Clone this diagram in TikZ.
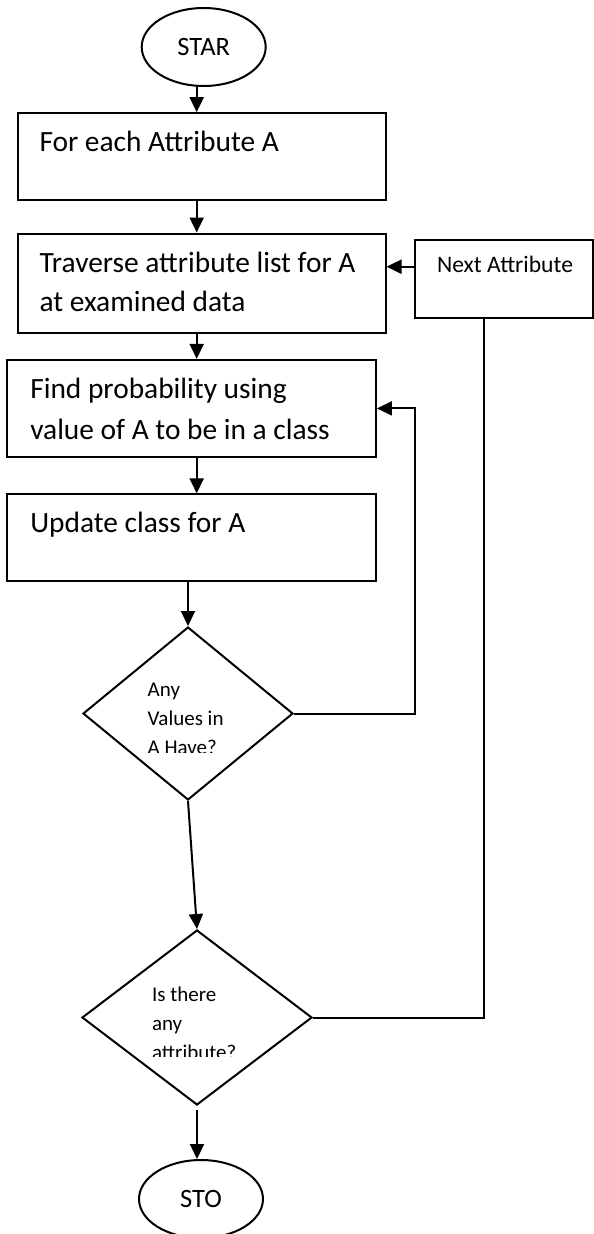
\documentclass[tikz,border=0pt]{standalone}
\usepackage{fontspec}
\setmainfont{Carlito}
\usetikzlibrary{shapes.geometric,arrows.meta}
\begin{document}
\begin{tikzpicture}[x=1pt,y=-1pt,
  line width=2pt,
  box/.style={draw, rectangle, inner sep=0pt, line width=2pt},
  term/.style={draw, ellipse, inner sep=0pt, minimum width=124pt, minimum height=78pt, line width=2pt, font=\fontsize{26.5}{30}\selectfont},
  dec/.style={draw, diamond, inner sep=0pt, line width=2pt},
  txt/.style={inner sep=0pt, anchor=base west, font=\fontsize{29.4}{35}\selectfont},
  dtxt/.style={inner sep=0pt, anchor=base west, font=\fontsize{21}{25}\selectfont},
  ntxt/.style={inner sep=0pt, anchor=base west, font=\fontsize{23.6}{28}\selectfont},
  arr/.style={-{Triangle[length=15pt,width=14pt]}, line width=2pt},
  conn/.style={line width=2pt}
]
\useasboundingbox (0,0) rectangle (594,1234);

% shapes
\node[term] (start) at (203.7,47) {STAR};
\node[box, minimum width=368pt, minimum height=87pt] (b1) at (201.5,156.7) {};
\node[box, minimum width=368pt, minimum height=99pt] (b2) at (201.5,283) {};
\node[box, minimum width=178.2pt, minimum height=78.3pt] (next) at (503.9,279.2) {};
\node[box, minimum width=368.6pt, minimum height=97pt] (b3) at (191.6,408.4) {};
\node[box, minimum width=368.6pt, minimum height=86.7pt] (b4) at (191.6,537.7) {};
\node[dec, minimum width=210pt, minimum height=173pt] (d1) at (188,713.5) {};
\node[dec, minimum width=230pt, minimum height=175pt] (d2) at (197,1017.5) {};
\node[term] (stop) at (201,1199) {STO};

% texts
\node[txt] (t1) at (38.5,151.7) {For each Attribute A};
\node[txt] (t2a) at (38.5,272) {Traverse attribute list for A};
\node[txt] (t2b) at (38.5,311.7) {at examined data};
\node[ntxt] (tn) at (436,272.7) {Next Attribute};
\node[txt] (t3a) at (29.3,398.5) {Find probability using};
\node[txt] (t3b) at (29.3,439) {value of A to be in a class};
\node[txt] (t4) at (29.3,532.7) {Update class for A};

\begin{scope}
  \clip (100,660) rectangle (280,752.5);
  \node[dtxt] (q1a) at (146.7,696) {Any};
  \node[dtxt] (q1b) at (146.7,725) {Values in};
  \node[dtxt] (q1c) at (146.7,754) {A Have?};
\end{scope}
\begin{scope}
  \clip (100,960) rectangle (300,1056);
  \node[dtxt] (q2a) at (151,1001) {Is there};
  \node[dtxt] (q2b) at (151,1030) {any};
  \node[dtxt] (q2c) at (151,1059) {attribute?};
\end{scope}

% helper coordinates
\coordinate (cx) at (196.7,0);
\coordinate (lp) at (415,0);
\coordinate (nx) at (484,0);
\coordinate (ay) at (0,266.7);

% connectors
\draw[arr] (start.south -| cx) -- (b1.north -| cx);
\draw[arr] (b1.south -| cx) -- (b2.north -| cx);
\draw[arr] (b2.south -| cx) -- (b3.north -| cx);
\draw[arr] (b3.south -| cx) -- (b4.north -| cx);
\draw[arr] (b4.south -| d1.north) -- (d1.north);
\draw[arr] (d1.south) -- (d2.north);
\draw[arr, shorten <=4pt] (d2.south) -- (stop.north -| d2.south);
\draw[arr] (d1.east) -- (d1.east -| lp) -- (b3.east -| lp) -- (b3.east);
\draw[conn] (d2.east) -- (d2.east -| nx) -- (next.south -| nx);
\draw[arr] (next.west |- ay) -- (b2.east |- ay);
\end{tikzpicture}
\end{document}
